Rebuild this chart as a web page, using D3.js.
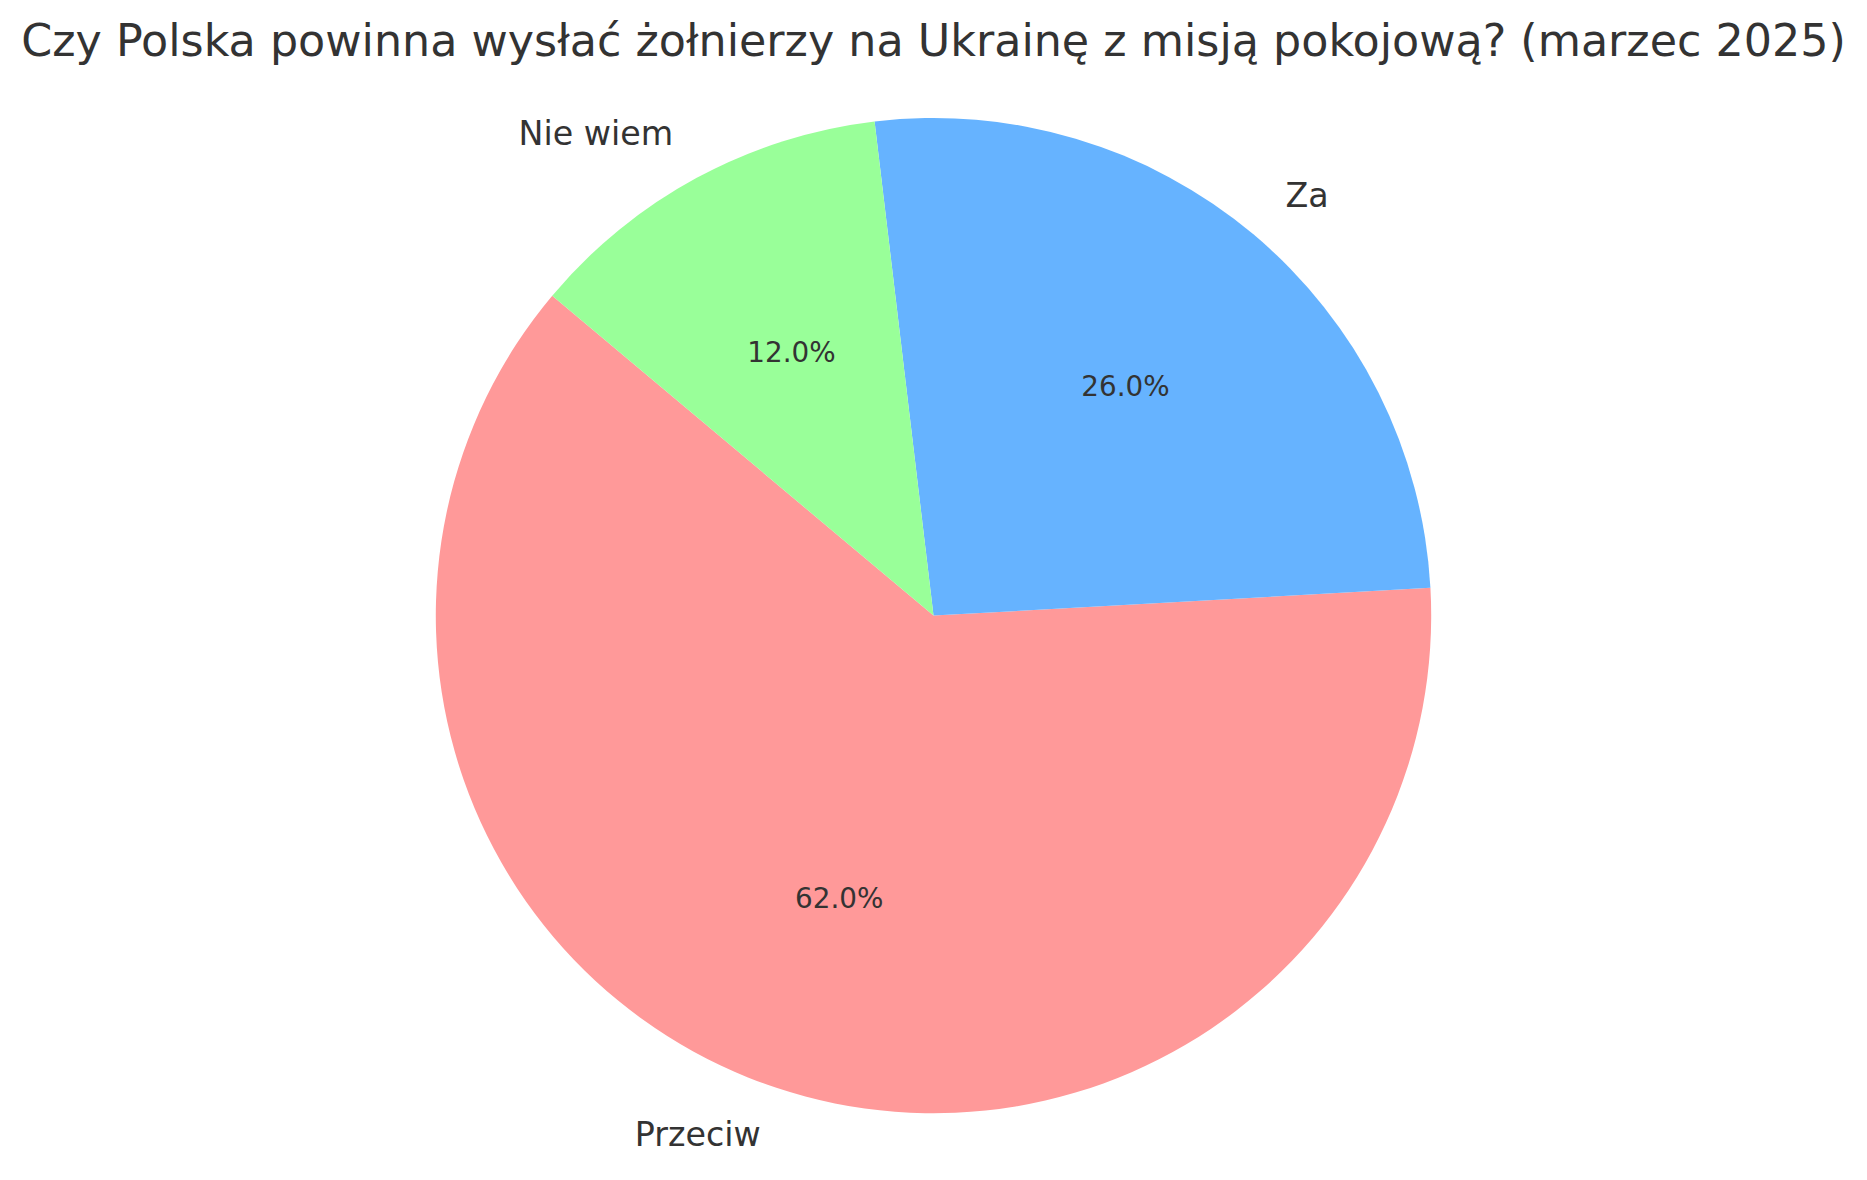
<!DOCTYPE html>
<html>
<head>
<meta charset="utf-8">
<script src="https://cdn.jsdelivr.net/npm/d3@7"></script>
<style>
  html, body { margin: 0; padding: 0; background: #ffffff; }
  svg { display: block; }
  text { font-family: "DejaVu Sans", sans-serif; fill: #333333; }
</style>
</head>
<body>
<svg id="chart" width="1867" height="1180"></svg>
<script>
// Data
const categories = ["Przeciw", "Za", "Nie wiem"];
const values = [62, 26, 12];
const colors = ["#ff9999", "#66b3ff", "#99ff99"];
const titleText = "Czy Polska powinna wysłać żołnierzy na Ukrainę z misją pokojową? (marzec 2025)";

const W = 1867, H = 1180;
const cx = 933.5, cy = 615.6, R = 497.7;
const startAngleDeg = 140; // matplotlib startangle, counterclockwise

const svg = d3.select("#chart");

svg.append("text")
  .attr("x", W / 2)
  .attr("y", 56)
  .attr("text-anchor", "middle")
  .style("font-size", "44.4px")
  .text(titleText);

const data = categories.map((c, i) => ({ label: c, value: values[i], color: colors[i] }));

// matplotlib draws counterclockwise from startangle (math convention).
// d3 angles: 0 at 12 o'clock, clockwise. Convert: d3 = 90 - math.
const total = d3.sum(values);
const angleScale = d3.scaleLinear().domain([0, total]).range([0, 360]);
let acc = 0;
const slices = data.map(d => {
  const a0 = startAngleDeg + angleScale(acc);
  acc += d.value;
  const a1 = startAngleDeg + angleScale(acc);
  return Object.assign({}, d, { m0: a0, m1: a1 });
});

const toRad = deg => deg * Math.PI / 180;
const arc = d3.arc().innerRadius(0).outerRadius(R);

const g = svg.append("g").attr("transform", `translate(${cx},${cy})`);

g.selectAll("path.slice")
  .data(slices)
  .join("path")
  .attr("class", "slice")
  .attr("fill", d => d.color)
  .attr("d", d => arc({ startAngle: toRad(90 - d.m1), endAngle: toRad(90 - d.m0) }));

// labels at 1.1 R, percentages at 0.6 R
slices.forEach(d => {
  const mid = toRad((d.m0 + d.m1) / 2);
  const lx = 1.1 * R * Math.cos(mid);
  const ly = -1.1 * R * Math.sin(mid);
  g.append("text")
    .attr("x", lx)
    .attr("y", ly - 1)
    .attr("text-anchor", lx > 0 ? "start" : "end")
    .attr("dominant-baseline", "central")
    .style("font-size", "33.3px")
    .text(d.label);
  const px = 0.6 * R * Math.cos(mid);
  const py = -0.6 * R * Math.sin(mid);
  g.append("text")
    .attr("x", px)
    .attr("y", py)
    .attr("text-anchor", "middle")
    .attr("dominant-baseline", "central")
    .style("font-size", "27.8px")
    .text((d.value / total * 100).toFixed(1) + "%");
});
</script>
</body>
</html>
